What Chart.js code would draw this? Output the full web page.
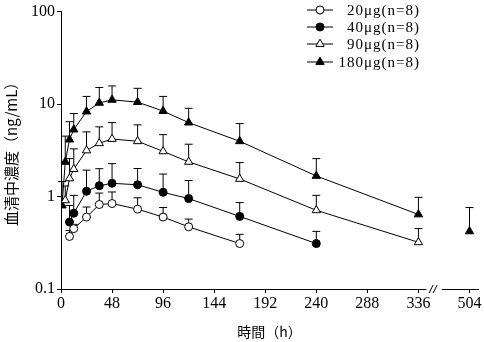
<!DOCTYPE html>
<html>
<head>
<meta charset="utf-8">
<script src="https://cdn.jsdelivr.net/npm/chart.js@4/dist/chart.umd.min.js"></script>
<style>
  html, body { margin: 0; padding: 0; background: #fff; }
  #wrap { width: 484px; height: 342px; }
</style>
</head>
<body>
<div id="wrap"><canvas id="pkChart" width="484" height="342"></canvas></div>
<script>
// sampling times (h); 504 sits after the axis break
const times = [1, 4, 8, 12, 24, 36, 48, 72, 96, 120, 168, 240, 336, 504];
const xTickValues = [0, 48, 96, 144, 192, 240, 288, 336, 504];
const yTickValues = [0.1, 1, 10, 100];

const doseLabels = ["20μg(n=8)", "40μg(n=8)", "90μg(n=8)", "180μg(n=8)"];

// mean serum concentration (ng/mL) and mean + SD
const dose20 = [null, null, 0.37, 0.45, 0.60, 0.82, 0.84, 0.73, 0.60, 0.47, 0.31, null, null, null];
const dose20Upper = [null, null, 0.43, 0.50, 0.77, 1.09, 1.12, 0.97, 0.76, 0.57, 0.39, null, null, null];
const dose40 = [null, null, 0.53, 0.66, 1.14, 1.31, 1.39, 1.34, 1.11, 0.95, 0.61, 0.31, null, null];
const dose40Upper = [null, null, 0.80, 1.03, 1.93, 2.00, 2.27, 2.01, 1.75, 1.49, 0.86, 0.42, null, null];
const dose90 = [null, 0.91, 1.57, 1.98, 3.15, 3.77, 4.19, 3.96, 3.08, 2.37, 1.55, 0.71, 0.32, null];
const dose90Upper = [null, 1.30, 2.57, 3.28, 5.00, 5.67, 6.30, 5.96, 4.67, 3.68, 2.33, 1.03, 0.45, null];
const dose180 = [0.80, 2.37, 4.13, 5.30, 8.30, 10.3, 11.1, 10.5, 8.40, 6.30, 3.96, 1.67, 0.64, 0.42];
const dose180Upper = [1.45, 4.50, 6.45, 7.90, 12.1, 15.1, 15.7, 14.8, 12.1, 9.00, 6.15, 2.57, 0.98, 0.76];

// broken axis: everything past 336 h is shifted to one tick step after 336
const BREAK_AT = 336;
const AFTER_BREAK = 384;
const toAxis = t => (t > BREAK_AT ? AFTER_BREAK : t);
const fromAxis = v => (v > BREAK_AT ? 504 : v);

const serif = "'Liberation Serif', 'Noto Sans CJK JP', serif";
const cjk = "'Noto Sans CJK JP', 'Liberation Serif', sans-serif";

function makePoints(values, uppers) {
    const pts = [];
    times.forEach((t, i) => {
        if (values[i] === null) return;
        pts.push({ x: toAxis(t), y: values[i], upper: uppers[i], t: t });
    });
    return pts;
}

const seriesDefs = [
    { values: dose20, uppers: dose20Upper, style: "circle", fill: "#fff", radius: 4 },
    { values: dose40, uppers: dose40Upper, style: "circle", fill: "#000", radius: 4 },
    { values: dose90, uppers: dose90Upper, style: "triangle", fill: "#fff", radius: 4.8 },
    { values: dose180, uppers: dose180Upper, style: "triangle", fill: "#000", radius: 4.8 }
];

const datasets = seriesDefs.map((s, i) => ({
    label: doseLabels[i],
    data: makePoints(s.values, s.uppers),
    borderColor: "#000",
    borderWidth: 1,
    backgroundColor: s.fill,
    pointStyle: s.style,
    pointRadius: s.radius,
    pointBackgroundColor: s.fill,
    pointBorderColor: "#000",
    pointBorderWidth: 1,
    tension: 0,
    // no line across the axis break
    segment: {
        borderColor: ctx => (ctx.p1.parsed.x > BREAK_AT ? "rgba(0,0,0,0)" : "#000")
    }
}));

// upward SD bars with a cap, drawn under the markers
const errorBars = {
    id: "errorBars",
    beforeDatasetsDraw(chart) {
        const { ctx, scales: { x, y } } = chart;
        ctx.save();
        ctx.strokeStyle = "#000";
        ctx.lineWidth = 1;
        chart.data.datasets.forEach(ds => {
            ds.data.forEach(p => {
                if (p.upper == null) return;
                const px = x.getPixelForValue(p.x);
                const py = y.getPixelForValue(p.y);
                const pu = y.getPixelForValue(p.upper);
                ctx.beginPath();
                ctx.moveTo(px, py);
                ctx.lineTo(px, pu);
                ctx.moveTo(px - 4, pu);
                ctx.lineTo(px + 4, pu);
                ctx.stroke();
            });
        });
        ctx.restore();
    }
};

// gap and "//" marks on the x axis
const axisBreak = {
    id: "axisBreak",
    afterDraw(chart) {
        const { ctx, scales: { x, y } } = chart;
        const y0 = y.bottom;
        const a = x.getPixelForValue(343.5);
        const b = x.getPixelForValue(358);
        ctx.save();
        ctx.fillStyle = "#fff";
        ctx.fillRect(a, y0 - 2, b - a, 4);
        ctx.strokeStyle = "#000";
        ctx.lineWidth = 1;
        const m = (a + b) / 2;
        ctx.beginPath();
        ctx.moveTo(m - 5, y0 + 4);
        ctx.lineTo(m - 1, y0 - 4);
        ctx.moveTo(m - 1, y0 + 4);
        ctx.lineTo(m + 3, y0 - 4);
        ctx.stroke();
        ctx.restore();
    }
};

// legend: short line with marker, label on the right
const lineLegend = {
    id: "lineLegend",
    afterDraw(chart) {
        const { ctx } = chart;
        const rowY = [10, 27, 44, 62];
        ctx.save();
        chart.data.datasets.forEach((ds, i) => {
            const yy = rowY[i];
            ctx.strokeStyle = "#000";
            ctx.lineWidth = 1;
            ctx.beginPath();
            ctx.moveTo(307, yy);
            ctx.lineTo(333, yy);
            ctx.stroke();
            ctx.fillStyle = ds.pointBackgroundColor;
            ctx.strokeStyle = "#000";
            Chart.helpers.drawPoint(ctx, {
                pointStyle: ds.pointStyle,
                radius: ds.pointRadius,
                borderWidth: 1
            }, 320, yy);
            ctx.fillStyle = "#000";
            ctx.font = "15px " + serif;
            ctx.letterSpacing = "1px";
            ctx.textAlign = "right";
            ctx.textBaseline = "middle";
            ctx.fillText(ds.label, 420, yy + 1);
        });
        ctx.restore();
    }
};

new Chart(document.getElementById("pkChart"), {
    type: "line",
    data: { datasets },
    plugins: [errorBars, axisBreak, lineLegend],
    options: {
        responsive: false,
        animation: false,
        devicePixelRatio: 1,
        layout: { padding: { top: 7, right: 6, left: 0, bottom: 0 } },
        plugins: {
            legend: { display: false },
            tooltip: { enabled: false }
        },
        scales: {
            x: {
                type: "linear",
                min: 0,
                max: 392,
                afterBuildTicks: scale => {
                    scale.ticks = xTickValues.map(v => ({ value: toAxis(v) }));
                },
                afterFit: scale => { scale.height = 53; },
                ticks: {
                    callback: v => String(fromAxis(v)),
                    color: "#000",
                    font: { family: serif, size: 16 },
                    padding: 1,
                    maxRotation: 0,
                    autoSkip: false
                },
                grid: { display: true, drawOnChartArea: false, tickLength: 4, color: "#000" },
                border: { display: true, color: "#000", width: 1 },
                title: {
                    display: true,
                    text: "時間（h）",
                    color: "#000",
                    font: { family: cjk, size: 14 },
                    padding: { top: 0, bottom: 2 }
                }
            },
            y: {
                type: "logarithmic",
                min: 0.1,
                max: 100,
                afterBuildTicks: scale => {
                    scale.ticks = yTickValues.map(v => ({ value: v }));
                },
                afterFit: scale => { scale.width = 61; },
                ticks: {
                    callback: v => String(v),
                    color: "#000",
                    font: { family: serif, size: 16 },
                    padding: 2
                },
                grid: { display: true, drawOnChartArea: false, tickLength: 4, color: "#000" },
                border: { display: true, color: "#000", width: 1 },
                title: {
                    display: true,
                    text: "血清中濃度（ng/mL）",
                    color: "#000",
                    font: { family: cjk, size: 15 },
                    padding: { top: 2, bottom: 2 }
                }
            }
        }
    }
});
</script>
</body>
</html>
